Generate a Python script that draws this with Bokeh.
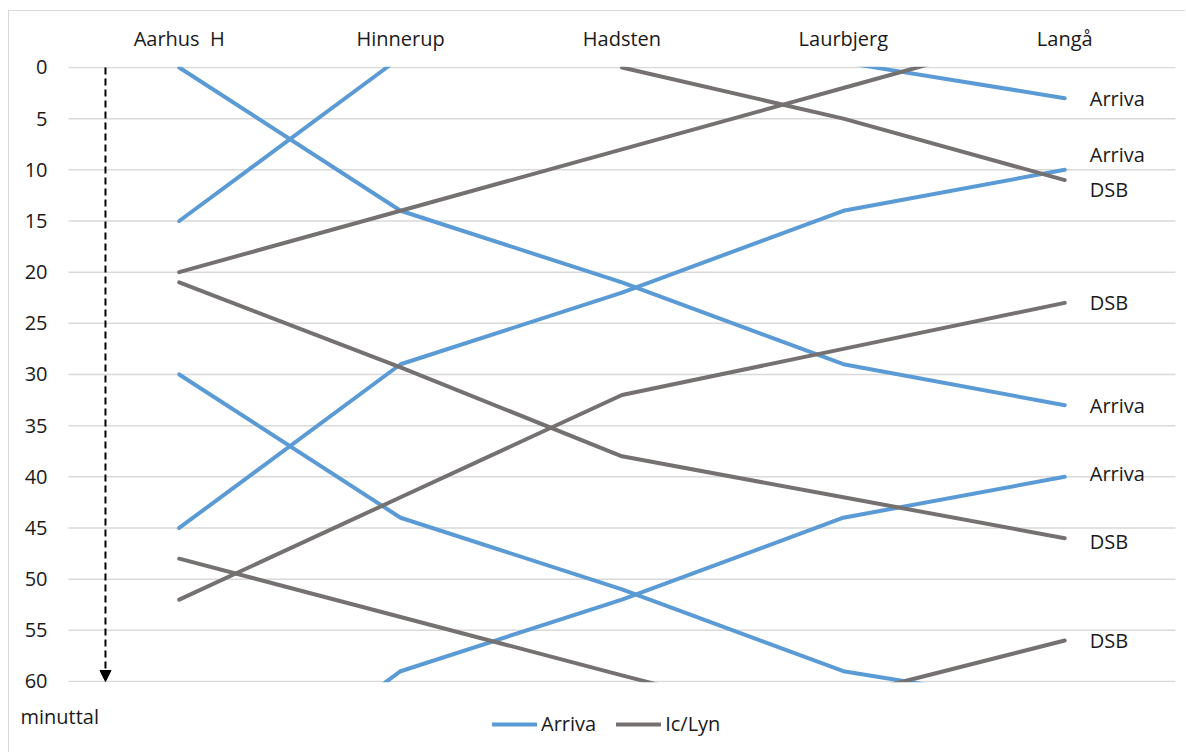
from bokeh.plotting import figure
from bokeh.models import (Range1d, Legend, LegendItem, LabelSet,
                          Arrow, NormalHead, Label, ColumnDataSource, BoxAnnotation)
from bokeh.embed import file_html
from bokeh.resources import INLINE
from bokeh.core.properties import value

nan = float("nan")

# ---------------- data ----------------
stations = ["Aarhus \u00a0H", "Hinnerup", "Hadsten", "Laurbjerg", "Langå"]
y_ticks = [0, 5, 10, 15, 20, 25, 30, 35, 40, 45, 50, 55, 60]
y_labels = [str(t) for t in y_ticks]

# Arriva trains (minutes past the hour at each station)
arriva_1 = [0, 14, 21, 29, 33]
arriva_2 = [30, 44, 51, 59, 62.5]
arriva_3 = [45, 29, 22, 14, 10]
arriva_4 = [75, 59, 52, 44, 40]
arriva_5 = [15, -1, nan, nan, nan]
arriva_6 = [nan, nan, nan, -0.5, 3]

# DSB Ic/Lyn trains
iclyn_1 = [20, 14, 8, 2, -4]
iclyn_2 = [52, 42, 32, 27.5, 23]
iclyn_3 = [21, 29.3, 38, 42, 46]
iclyn_4 = [48, 53.7, 59.4, 65, nan]
iclyn_5 = [nan, nan, 0, 5, 11]
iclyn_6 = [nan, nan, nan, 61.5, 56]

arriva_series = [arriva_1, arriva_2, arriva_3, arriva_4, arriva_5, arriva_6]
iclyn_series = [iclyn_1, iclyn_2, iclyn_3, iclyn_4, iclyn_5, iclyn_6]

# end-of-line labels at Langå
end_label_values = [3, 10, 11, 23, 33, 40, 46, 56]
end_label_texts = ["Arriva", "Arriva", "DSB", "DSB", "Arriva", "Arriva", "DSB", "DSB"]
end_label_dy = [0, -15, 9, 0, 0, -3, 3, 0]  # style: pixel nudges

series_names = ["Arriva", "Ic/Lyn"]
axis_note = "minuttal"

# ---------------- styles ----------------
BLUE = "#5B9BD5"
GRAY = "#767171"
GRID = "#D9D9D9"
TXT = "#1a1a1a"
FONT = "Open Sans"
FS = "20px"

xs = list(range(len(stations)))
y_min, y_max = y_ticks[0], y_ticks[-1]
x_lo, x_hi = -0.5, len(stations) - 0.5
cat_label_y = -2.83      # position of station names above the plot area

p = figure(width=1177, height=742, output_backend="svg", toolbar_location=None,
           x_range=Range1d(-0.7665, 4.55), y_range=Range1d(67.04, -5.472),
           x_axis_location=None, y_axis_location=None,
           min_border_left=0, min_border_right=0, min_border_top=0, min_border_bottom=0)
p.styles = {"margin-left": "8px", "margin-top": "10px",
            "border-left": "1px solid #D9D9D9", "border-top": "1px solid #D9D9D9"}
p.outline_line_color = None
p.background_fill_color = "white"
p.border_fill_color = "white"
p.xgrid.visible = False
p.ygrid.visible = False

# horizontal gridlines across the plot area
p.segment(x0=[x_lo] * len(y_ticks), x1=[x_hi] * len(y_ticks), y0=y_ticks, y1=y_ticks,
          line_color=GRID, line_width=1.5)

# y tick labels
p.text(x=[x_lo] * len(y_ticks), y=y_ticks, text=y_labels, x_offset=-21,
       text_font=value(FONT), text_font_size=FS, text_color=TXT,
       text_align="right", text_baseline="middle")

# lines
arriva_renderers = []
for s in arriva_series:
    r = p.line(xs, s, line_color=BLUE, line_width=4, line_cap="round", line_join="round")
    arriva_renderers.append(r)
iclyn_renderers = []
for s in iclyn_series:
    r = p.line(xs, s, line_color=GRAY, line_width=4, line_cap="round", line_join="round")
    iclyn_renderers.append(r)

# end labels
src = ColumnDataSource(dict(x=[xs[-1]] * len(end_label_values), y=end_label_values,
                            t=end_label_texts, dy=end_label_dy))
p.text(x="x", y="y", text="t", y_offset="dy", source=src, x_offset=25,
       text_font=value(FONT), text_font_size=FS, text_color=TXT,
       text_baseline="middle", text_align="left")

# mask outside the 0-60 band (clip lines at the plot area)
p.add_layout(BoxAnnotation(top=y_max + 0.08, bottom=y_max + 20, left=x_lo, right=x_hi + 1,
                           fill_color="white", fill_alpha=1, line_color=None))
p.add_layout(BoxAnnotation(bottom=y_min - 0.08, top=y_min - 20, left=x_lo, right=x_hi + 1,
                           fill_color="white", fill_alpha=1, line_color=None))

# station names above the plot area
cat_src = ColumnDataSource(dict(x=xs, y=[cat_label_y] * len(xs), t=stations))
p.add_layout(LabelSet(x="x", y="y", text="t", source=cat_src,
                      text_font=value(FONT), text_font_size=FS, text_color=TXT,
                      text_align="center", text_baseline="middle"))

# dashed arrow
arrow_x = -0.333
p.add_layout(Arrow(x_start=arrow_x, y_start=y_min, x_end=arrow_x, y_end=y_max,
                   line_color="black", line_width=2, line_dash="7 4",
                   end=NormalHead(size=11, fill_color="black", line_color="black")))

# "minuttal" below the plot, left
p.add_layout(Label(x=-0.717, y=63.4, text=axis_note, text_font=FONT, text_font_size=FS,
                   text_color=TXT, text_baseline="middle", text_align="left"))

# legend
legend = Legend(items=[LegendItem(label=series_names[0], renderers=arriva_renderers[:1]),
                       LegendItem(label=series_names[1], renderers=iclyn_renderers[:1])],
                orientation="horizontal", location=(483, 16),
                glyph_width=45, glyph_height=20, label_height=20, label_standoff=4,
                spacing=20, padding=0, margin=0, border_line_color=None,
                background_fill_alpha=0,
                label_text_font=FONT, label_text_font_size=FS, label_text_color=TXT)
p.add_layout(legend, "center")

open("out.html", "w").write(file_html(p, INLINE))
